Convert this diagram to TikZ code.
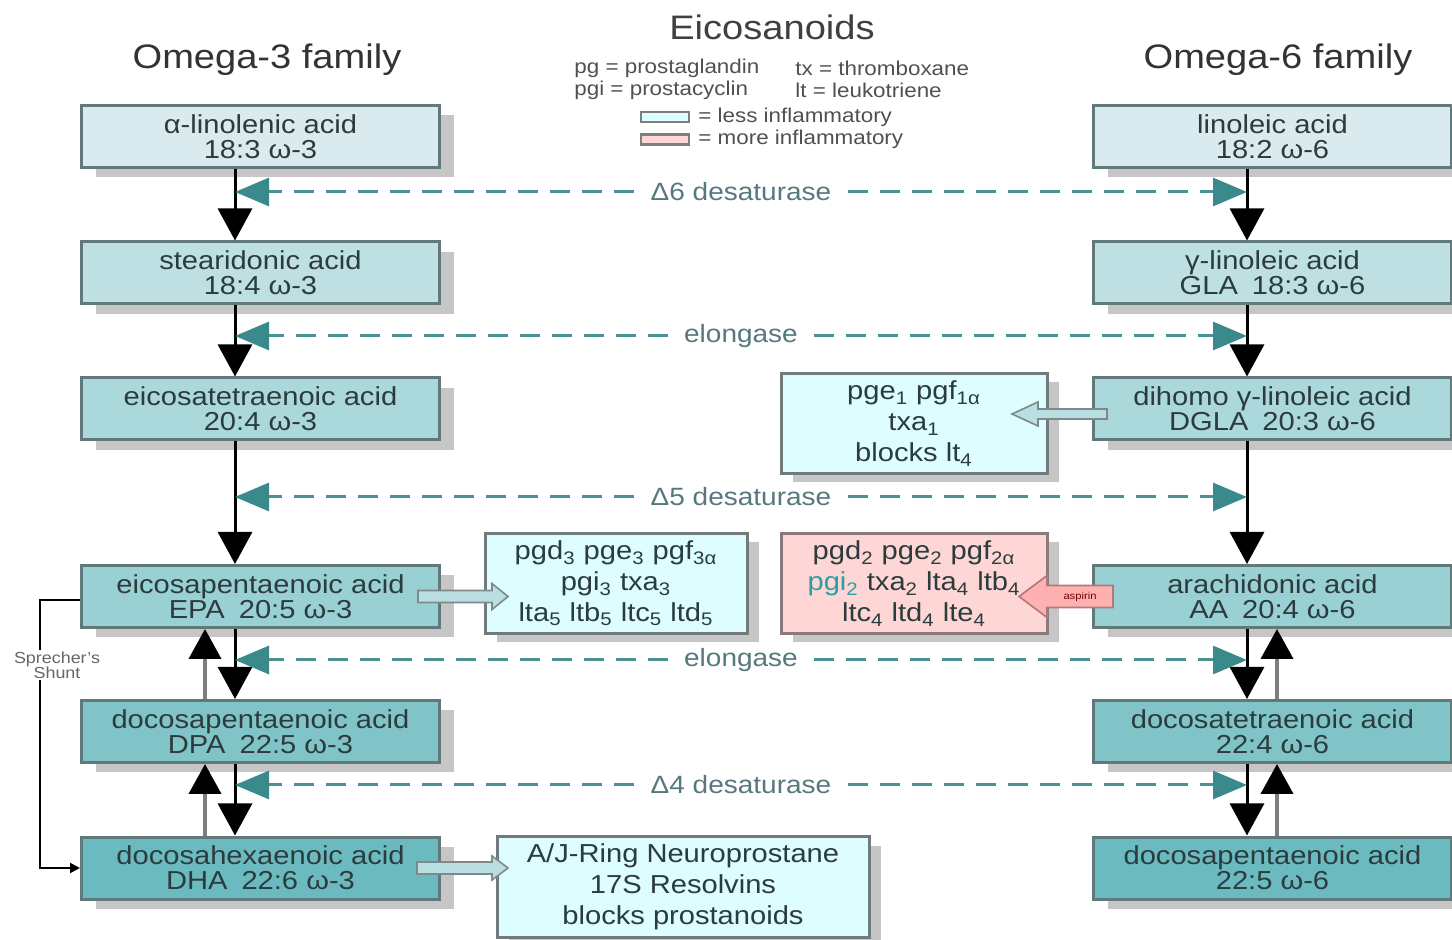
\documentclass[tikz,border=0pt]{standalone}
\usepackage{fontspec}
\setmainfont{Liberation Sans}[FakeStretch=1.12]
\usetikzlibrary{arrows.meta,shadows,calc}
\definecolor{c1}{HTML}{D9EBEE}
\definecolor{c2}{HTML}{BEE0E3}
\definecolor{c3}{HTML}{ABD8DB}
\definecolor{c4}{HTML}{99D0D4}
\definecolor{c5}{HTML}{80C4C8}
\definecolor{c6}{HTML}{6ABABF}
\definecolor{bordc}{HTML}{62797B}
\definecolor{shadowc}{HTML}{C6C6C6}
\definecolor{boxtext}{HTML}{2C3C3E}
\definecolor{sidefill}{HTML}{DDFDFE}
\definecolor{sidebord}{HTML}{717B7B}
\definecolor{pinkfill}{HTML}{FFD6D6}
\definecolor{pinkbord}{HTML}{8A7A7A}
\definecolor{pgiteal}{HTML}{2AA0A2}
\definecolor{enzc}{HTML}{56797D}
\definecolor{dashc}{HTML}{4A9296}
\definecolor{tipteal}{HTML}{3A8A8C}
\definecolor{upgray}{HTML}{7E7E7E}
\definecolor{fatfill}{HTML}{B9DFE2}
\definecolor{fatbord}{HTML}{7E8A8A}
\definecolor{aspfill}{HTML}{FFB0B0}
\definecolor{aspbord}{HTML}{B07878}
\definecolor{legc}{HTML}{505050}
\begin{document}
\begin{tikzpicture}[x=0.5pt,y=-0.5pt,
  box/.style={draw=bordc, line width=1.5pt, minimum width=179pt, minimum height=31pt,
    inner sep=0pt, align=center, font=\fontsize{13}{12.5}\selectfont, text=boxtext,
    drop shadow={shadow xshift=7pt, shadow yshift=-5pt, fill=shadowc, opacity=1}},
  side/.style={draw=sidebord, line width=1.5pt, fill=sidefill, minimum height=50pt,
    inner sep=0pt, align=center, font=\fontsize{13}{15.5}\selectfont, text=boxtext,
    drop shadow={shadow xshift=6pt, shadow yshift=-4.5pt, fill=shadowc, opacity=1}},
  downarr/.style={line width=1.5pt, -{Triangle[length=16pt,width=17pt]}},
  uparr/.style={draw=upgray, line width=2pt, -{Triangle[length=15pt,width=16pt,color=black]}},
  enz/.style={fill=white, inner xsep=8pt, inner ysep=1pt, font=\fontsize{12.5}{12.5}\selectfont, text=enzc},
  dasharr/.style={draw=dashc, line width=1.5pt, dash pattern=on 10pt off 6pt,
    -{Triangle[length=17pt,width=14pt,color=tipteal]}},
  fatb/.style={draw=fatbord, line width=0.8pt, fill=fatfill},
  leg/.style={inner sep=0pt, font=\fontsize{10}{10}\selectfont, text=legc},
  swatch/.style={draw=upgray, line width=1.1pt, minimum width=24pt, minimum height=5pt, inner sep=0pt},
  shunt/.style={line width=1pt, -{Triangle[length=5pt,width=5pt]}}
]
\useasboundingbox (0,0) rectangle (1452,940);

% titles
\node[text=black!75, font=\fontsize{17}{17}\selectfont] (title) at (772,27) {Eicosanoids};
\node[text=black!80, font=\fontsize{17}{17}\selectfont] (om3) at (267,60) {Omega-3 family};
\node[text=black!80, font=\fontsize{17}{17}\selectfont] (om6) at (1278,60) {Omega-6 family};

% legend
\node[leg, anchor=west] (lg1) at (574,68) {pg = prostaglandin};
\node[leg, anchor=west] (lg2) at (795,68) {tx = thromboxane};
\node[leg, anchor=west] (lg3) at (574,90) {pgi = prostacyclin};
\node[leg, anchor=west] (lg4) at (795,90) {lt = leukotriene};
\node[swatch, fill=sidefill] (sw1) at (665,117) {};
\node[leg, anchor=west] (lg5) at (698,117) {= less inflammatory};
\node[swatch, fill=pinkfill] (sw2) at (665,139.5) {};
\node[leg, anchor=west] (lg6) at (698,139.5) {= more inflammatory};

% omega-3 column
\node[box, fill=c1] (L1) at (260.5,136.5) {α-linolenic acid\\18:3 ω-3};
\node[box, fill=c2] (L2) at (260.5,273) {stearidonic acid\\18:4 ω-3};
\node[box, fill=c3] (L3) at (260.5,409) {eicosatetraenoic acid\\20:4 ω-3};
\node[box, fill=c4] (L4) at (260.5,596.5) {eicosapentaenoic acid\\EPA\hspace{7pt}20:5 ω-3};
\node[box, fill=c5] (L5) at (260.5,731.5) {docosapentaenoic acid\\DPA\hspace{7pt}22:5 ω-3};
\node[box, fill=c6] (L6) at (260.5,868) {docosahexaenoic acid\\DHA\hspace{7pt}22:6 ω-3};

% omega-6 column
\node[box, fill=c1] (R1) at (1272.5,136.5) {linoleic acid\\18:2 ω-6};
\node[box, fill=c2] (R2) at (1272.5,273) {γ-linoleic acid\\GLA\hspace{7pt}18:3 ω-6};
\node[box, fill=c3] (R3) at (1272.5,409) {dihomo γ-linoleic acid\\DGLA\hspace{7pt}20:3 ω-6};
\node[box, fill=c4] (R4) at (1272.5,596.5) {arachidonic acid\\AA\hspace{7pt}20:4 ω-6};
\node[box, fill=c5] (R5) at (1272.5,731.5) {docosatetraenoic acid\\22:4 ω-6};
\node[box, fill=c6] (R6) at (1272.5,868) {docosapentaenoic acid\\22:5 ω-6};

% side boxes
\node[side, minimum width=133pt] (S1) at (914,423.5)
  {pge\textsubscript{1} pgf\textsubscript{1α}\\txa\textsubscript{1}\\blocks lt\textsubscript{4}};
\node[side, minimum width=131pt] (S2) at (616,583.5)
  {pgd\textsubscript{3} pge\textsubscript{3} pgf\textsubscript{3α}\\pgi\textsubscript{3} txa\textsubscript{3}\\lta\textsubscript{5} ltb\textsubscript{5} ltc\textsubscript{5} ltd\textsubscript{5}};
\node[side, minimum width=133pt, fill=pinkfill, draw=pinkbord] (S3) at (914,583.5)
  {pgd\textsubscript{2} pge\textsubscript{2} pgf\textsubscript{2α}\\\textcolor{pgiteal}{pgi\textsubscript{2}} txa\textsubscript{2} lta\textsubscript{4} ltb\textsubscript{4}\\ltc\textsubscript{4} ltd\textsubscript{4} lte\textsubscript{4}};
\node[side, minimum width=186pt, minimum height=50.5pt] (S4) at (683,887)
  {A/J-Ring Neuroprostane\\17S Resolvins\\blocks prostanoids};

% column coordinates
\coordinate (cL) at (235,0);
\coordinate (uL) at (205,0);
\coordinate (cR) at (1247,0);
\coordinate (uR) at (1277,0);
\coordinate (shx) at (40,0);

% main down arrows
\foreach \a/\b in {1/2,2/3,3/4,4/5,5/6}{
  \draw[downarr] (L\a.south -| cL) -- (L\b.north -| cL);
  \draw[downarr] (R\a.south -| cR) -- (R\b.north -| cR);
}
% reverse (up) arrows
\draw[uparr] (L5.north -| uL) -- (L4.south -| uL);
\draw[uparr] (L6.north -| uL) -- (L5.south -| uL);
\draw[uparr] (R5.north -| uR) -- (R4.south -| uR);
\draw[uparr] (R6.north -| uR) -- (R5.south -| uR);

% enzymes
\node[enz] (e1) at (741,192) {Δ6 desaturase};
\node[enz] (e2) at (741,336) {elongase};
\node[enz] (e3) at (741,497) {Δ5 desaturase};
\node[enz] (e4) at (741,660) {elongase};
\node[enz] (e5) at (741,785) {Δ4 desaturase};
\foreach \e in {e1,e2,e3,e4,e5}{
  \draw[dasharr] (\e) -- (\e -| cL);
  \draw[dasharr] (\e) -- (\e -| cR);
}

% fat arrows
\draw[fatb] ($(L4.east)+(-23,-6)$) -- ++(74,0) -- ++(0,-7) -- ++(16,13) -- ++(-16,13) -- ++(0,-7) -- ++(-74,0) -- cycle;
\draw[fatb] ($(L6.east)+(-24,-6)$) -- ++(75,0) -- ++(0,-6) -- ++(16,12) -- ++(-16,12) -- ++(0,-6) -- ++(-75,0) -- cycle;
\draw[fatb] ($(R3.west)+(15,0)$) -- ++(-69,0) -- ++(0,-7) -- ++(-26,12) -- ++(26,12) -- ++(0,-7) -- ++(69,0) -- cycle;
\draw[fatb, draw=aspbord, fill=aspfill] ($(R4.west)+(21,-11)$) -- ++(-66,0) -- ++(0,-10) -- ++(-28,21) -- ++(28,21) -- ++(0,-10) -- ++(66,0) -- cycle;
\node[inner sep=0pt, font=\fontsize{5}{5}\selectfont, text=black!55!red] (asp) at ($(R4.west)+(-12,0)$) {aspirin};

% Sprecher's shunt
\draw[shunt] ([yshift=-2pt]L4.west) -- ([yshift=-2pt]L4.west -| shx) -- (L6.west -| shx) -- (L6.west);
\node[fill=white, inner sep=1pt, align=center, font=\fontsize{8}{7.5}\selectfont, text=black!60] (spr) at (57,665) {Sprecher's\\Shunt};
\end{tikzpicture}
\end{document}
